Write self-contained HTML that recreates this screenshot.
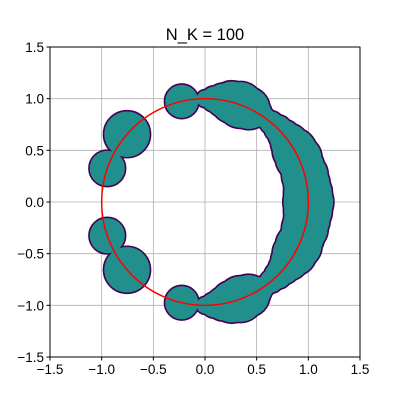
<!DOCTYPE html>
<html><head><meta charset="utf-8"><style>
body{margin:0;background:#fff;}
svg text{font-family:"Liberation Sans","DejaVu Sans",sans-serif;}
</style></head><body>
<svg id="chart" width="400" height="400" viewBox="0 0 400 400" xmlns="http://www.w3.org/2000/svg">
<rect width="400" height="400" fill="#fff"/>
<text x="205" y="40" font-size="16.5" text-anchor="middle" fill="#000">N_K = 100</text>
<g id="grid"></g>
<g id="blobs"></g>
<g id="ref"></g>
<rect x="50" y="47" width="310" height="310" fill="none" stroke="#000" stroke-width="1"/>
<g id="ticks"></g>
</svg>
<script>
const tickValues=[-1.5,-1.0,-0.5,0.0,0.5,1.0,1.5];
const tickLabels=["−1.5","−1.0","−0.5","0.0","0.5","1.0","1.5"];
const angleDeg=[0,5,10,15,20,25,30,35,40,45,50,55,60,65,70,75,80,85,90,103,
  -5,-10,-15,-20,-25,-30,-35,-40,-45,-50,-55,-60,-65,-70,-75,-80,-85,-90,-103,
  139,161,-139,-161];
const radii=[0.24,0.23,0.22,0.22,0.21,0.22,0.21,0.18,0.15,0.13,0.11,0.10,0.14,0.2,0.22,0.2,0.16,0.12,0.08,0.16,
  0.23,0.22,0.22,0.21,0.22,0.21,0.18,0.15,0.13,0.11,0.10,0.14,0.2,0.22,0.2,0.16,0.12,0.08,0.16,
  0.22,0.17,0.22,0.17];
const refRadius=1;
const X0=50,X1=360,Y0=357,Y1=47;
const sx=v=>X0+(v+1.5)/3*(X1-X0);
const sy=v=>Y0-(v+1.5)/3*(Y0-Y1);
const k=(X1-X0)/3;
const NS="http://www.w3.org/2000/svg";
const grid=document.getElementById('grid'),ticks=document.getElementById('ticks');
tickValues.forEach((v,i)=>{
  let l=document.createElementNS(NS,'line');
  
  
  l.setAttribute('x1',sx(v));l.setAttribute('x2',sx(v));l.setAttribute('y1',Y1);l.setAttribute('y2',Y0);
  l.setAttribute('stroke','#b0b0b0');l.setAttribute('stroke-width','0.8');grid.appendChild(l);
  l=document.createElementNS(NS,'line');
  
  
  l.setAttribute('x1',X0);l.setAttribute('x2',X1);l.setAttribute('y1',sy(v));l.setAttribute('y2',sy(v));
  l.setAttribute('stroke','#b0b0b0');l.setAttribute('stroke-width','0.8');grid.appendChild(l);
  let t=document.createElementNS(NS,'line');
  
  
  t.setAttribute('x1',sx(v));t.setAttribute('x2',sx(v));t.setAttribute('y1',Y0);t.setAttribute('y2',Y0+3.5);t.setAttribute('stroke','#000');ticks.appendChild(t);
  t=document.createElementNS(NS,'line');
  
  
  t.setAttribute('x1',X0-3.5);t.setAttribute('x2',X0);t.setAttribute('y1',sy(v));t.setAttribute('y2',sy(v));t.setAttribute('stroke','#000');ticks.appendChild(t);
  let tx=document.createElementNS(NS,'text');
  
  
  tx.setAttribute('x',sx(v));tx.setAttribute('y',Y0+17);tx.setAttribute('font-size','13.5');tx.setAttribute('text-anchor','middle');tx.textContent=tickLabels[i];ticks.appendChild(tx);
  tx=document.createElementNS(NS,'text');
  
  
  tx.setAttribute('x',X0-6);tx.setAttribute('y',sy(v)+5);tx.setAttribute('font-size','13.5');tx.setAttribute('text-anchor','end');tx.textContent=tickLabels[i];ticks.appendChild(tx);
});
const blobs=document.getElementById('blobs');
[['#440154',3.2,'blob-outline'],['#21908d',0,'blob-fill']].forEach(([col,sw,nm])=>{
  angleDeg.forEach((a,i)=>{
    const r=a*Math.PI/180;
    const c=document.createElementNS(NS,'circle');
    
    
    c.setAttribute('cx',sx(Math.cos(r)));c.setAttribute('cy',sy(Math.sin(r)));c.setAttribute('r',radii[i]*k);
    c.setAttribute('fill',col);
    if(sw){c.setAttribute('stroke',col);c.setAttribute('stroke-width',sw);}
    blobs.appendChild(c);
  });
});
const rc=document.createElementNS(NS,'circle');


rc.setAttribute('cx',sx(0));rc.setAttribute('cy',sy(0));rc.setAttribute('r',refRadius*k);
rc.setAttribute('fill','none');rc.setAttribute('stroke','#ff0000');rc.setAttribute('stroke-width','1.5');
document.getElementById('ref').appendChild(rc);
</script>
</body></html>
